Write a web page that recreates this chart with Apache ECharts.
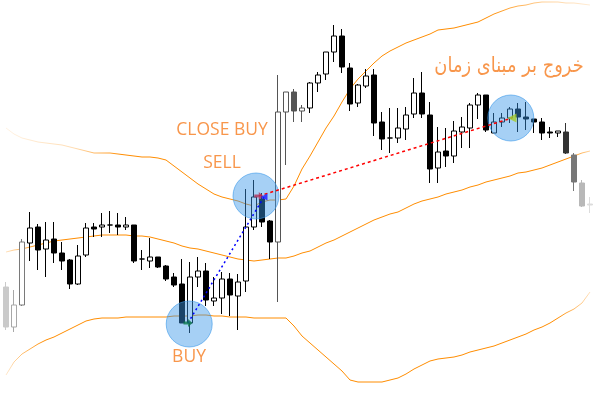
<!DOCTYPE html>
<html>
<head>
<meta charset="utf-8">
<script src="https://cdn.jsdelivr.net/npm/echarts@6/dist/echarts.min.js"></script>
<style>
  html, body { margin: 0; background: #fff; }
  #chart { width: 594px; height: 393px; }
</style>
</head>
<body>
<div id="chart"></div>
<script>
// candles: [open, close, low, high]
const bars = [
  [106, 66, 63, 111], [66, 88, 61, 103], [88, 151, 87, 154], [150, 165, 132, 181],
  [166, 143, 123, 169], [144, 153, 116, 171], [154, 140, 130, 171], [140, 132, 123, 151],
  [133, 109, 104, 134], [109, 137, 108, 148], [138, 165, 136, 170], [166, 164, 156, 170],
  [166, 168, 156, 180], [168, 168, 160, 182], [168, 166, 158, 180], [166, 168, 163, 176],
  [168, 132, 130, 168], [134, 134, 123, 143], [132, 136, 125, 155], [136, 126, 125, 136],
  [127, 114, 112, 128], [116, 108, 106, 120], [109, 70, 70, 134], [70, 116, 60, 131],
  [116, 122, 106, 136], [122, 93, 87, 130], [92, 95, 87, 116], [95, 114, 79, 121],
  [114, 98, 77, 120], [97, 111, 63, 119], [112, 166, 101, 204], [166, 196, 163, 213],
  [194, 171, 166, 200], [172, 151, 134, 173], [151, 281, 91, 318], [281, 301, 228, 301],
  [301, 282, 271, 304], [282, 285, 271, 288], [285, 310, 280, 311], [310, 318, 301, 321],
  [319, 341, 313, 341], [341, 357, 331, 368], [357, 326, 320, 364], [325, 289, 282, 330],
  [290, 308, 286, 309], [307, 317, 305, 324], [318, 270, 257, 324], [271, 254, 243, 281],
  [255, 255, 240, 285], [255, 265, 250, 285], [264, 278, 253, 286], [279, 300, 275, 315],
  [300, 279, 275, 321], [278, 224, 210, 291], [225, 241, 210, 266], [242, 237, 226, 265],
  [237, 262, 230, 272], [261, 266, 245, 276], [265, 288, 245, 290], [288, 298, 274, 300],
  [298, 263, 261, 298], [260, 271, 260, 280], [271, 275, 266, 280], [275, 284, 270, 286],
  [284, 276, 261, 290], [276, 274, 263, 291], [274, 271, 260, 274], [271, 260, 253, 275],
  [261, 260, 255, 266], [260, 262, 256, 262], [261, 240, 239, 270], [238, 211, 202, 240],
  [210, 187, 186, 213], [189, 188, 180, 196]
];

// bollinger bands
const upper = [
  265, 259, 255, 253, 251, 250, 249, 248, 246, 244, 242, 240, 240, 240, 239, 238,
  237, 236, 236, 235, 233, 227, 221, 215, 209, 204, 199, 196, 194, 192, 189, 187,
  191, 193, 193, 194, 207, 224, 237, 251, 265, 277, 291, 304, 314, 322, 330, 337,
  342, 346, 350, 353, 356, 359, 363, 364, 365, 367, 369, 371, 375, 379, 382, 385,
  387, 388, 390, 391, 391, 391, 390, 390, 389, 388
];
const middle = [
  141, 143, 144, 146, 148, 150, 152, 153, 154, 155, 156, 157, 158, 158, 158, 158,
  157, 157, 156, 154, 152, 150, 147, 145, 144, 142, 140, 138, 136, 134, 133, 132,
  133, 134, 135, 135, 137, 140, 142, 146, 150, 153, 157, 161, 165, 169, 173, 176,
  179, 181, 185, 189, 192, 194, 196, 199, 201, 203, 206, 208, 211, 213, 215, 217,
  220, 221, 223, 225, 228, 231, 234, 237, 240, 242
];
const lower = [
  18, 31, 39, 44, 49, 53, 56, 60, 64, 68, 72, 74, 75, 75, 75, 76,
  76, 76, 76, 76, 76, 77, 77, 77, 78, 78, 77, 77, 76, 76, 76, 75,
  75, 75, 75, 75, 67, 57, 50, 43, 36, 29, 22, 13, 11, 11, 11, 11,
  13, 15, 19, 24, 28, 32, 34, 35, 36, 38, 41, 43, 45, 47, 50, 53,
  56, 59, 63, 66, 70, 75, 80, 84, 90, 101
];

// trades, [bar position, price]
const buyEntry = [22.75, 70];
const buyExit = [32.25, 196];
const sellEntry = [31.6, 197];
const sellExit = [63.25, 275];
const circles = [[22.9, 69], [31.25, 197], [63.1, 275]];

// faded bars at the edges
const fade = { 0: '#cacaca', 1: '#a8a8a8', 2: '#7a7a7a', 34: '#555', 35: '#555', 36: '#555', 37: '#555',
  70: '#333', 71: '#777', 72: '#b8b8b8', 73: '#dcdcdc' };

const orange = '#ff8c00';
const textColor = '#f8964b';
const idx = bars.map((_, i) => i);

function bandColor(stops) {
  return new echarts.graphic.LinearGradient(0, 0, 1, 0,
    stops.map(([offset, a]) => ({ offset, color: `rgba(255,140,0,${a})` })));
}

function label(text, x, y) {
  return { type: 'text', x, y, scaleX: 0.92, z: 10,
    style: { text, fill: textColor, font: '19px "Open Sans", sans-serif', textAlign: 'center', textVerticalAlign: 'middle' } };
}

const chart = echarts.init(document.getElementById('chart'));
chart.setOption({
  animation: false,
  backgroundColor: '#fff',
  grid: { left: 2, right: 0, top: 0, bottom: 0 },
  xAxis: [
    { type: 'category', data: idx, show: false },
    { type: 'value', min: -0.5, max: 73.5, show: false }
  ],
  yAxis: { type: 'value', min: 0, max: 393, show: false, splitLine: { show: false } },
  series: [
    { type: 'line', data: upper, symbol: 'none', z: 1,
      lineStyle: { width: 1, color: bandColor([[0, 0.1], [0.12, 0.3], [0.2, 1], [0.82, 1], [0.92, 0.4], [1, 0.15]]) } },
    { type: 'line', data: middle, symbol: 'none', z: 1,
      lineStyle: { width: 1, color: bandColor([[0, 0.2], [0.06, 1], [0.96, 1], [1, 0.3]]) } },
    { type: 'line', data: lower, symbol: 'none', z: 1,
      lineStyle: { width: 1, color: bandColor([[0, 0.15], [0.07, 1], [0.94, 1], [1, 0.2]]) } },
    {
      type: 'candlestick',
      barWidth: 5,
      z: 2,
      itemStyle: { color: '#fff', color0: '#000', borderColor: '#000', borderColor0: '#000', borderWidth: 1 },
      data: bars.map((b, i) => {
        const c = fade[i];
        if (!c) return b;
        return { value: b, itemStyle: { color: b[1] > b[0] ? '#fff' : c, color0: c, borderColor: c, borderColor0: c } };
      })
    },
    {
      type: 'scatter',
      xAxisIndex: 1,
      data: circles,
      symbolSize: 46,
      itemStyle: { color: 'rgba(57,151,233,0.45)', borderColor: 'rgba(57,151,233,0.6)', borderWidth: 1, opacity: 1 },
      z: 3
    },
    {
      type: 'line', xAxisIndex: 1, data: [buyEntry, buyExit], symbol: 'none', z: 4,
      lineStyle: { color: '#0000ff', width: 1.5, type: [2, 3] }
    },
    {
      type: 'line', xAxisIndex: 1, data: [sellEntry, sellExit], symbol: 'none', z: 4,
      lineStyle: { color: '#ff0000', width: 1.5, type: [3, 3] }
    },
    {
      type: 'scatter', xAxisIndex: 1, z: 5,
      data: [
        { value: buyEntry, symbol: 'path://M0,3 L5,3 L5,0 L10,5 L5,10 L5,7 L0,7 Z', symbolSize: [9, 8], itemStyle: { color: '#0c7a4c' } },
        { value: sellEntry, symbol: 'path://M0,3 L5,3 L5,0 L10,5 L5,10 L5,7 L0,7 Z', symbolSize: [9, 8], itemStyle: { color: '#b0305a' } },
        { value: buyExit, symbol: 'triangle', symbolRotate: 90, symbolSize: 7, itemStyle: { color: '#1a1aff' } },
        { value: sellExit, symbol: 'triangle', symbolRotate: 90, symbolSize: 9, itemStyle: { color: '#a6cc2c' } }
      ]
    }
  ],
  graphic: [
    label('CLOSE BUY', 222, 130),
    label('SELL', 222, 163),
    label('BUY', 189, 357),
    { type: 'text', x: 509, y: 67, scaleX: 0.85, z: 10, style: { text: 'خروج بر مبنای زمان', fill: textColor, font: '21px "DejaVu Sans", sans-serif', textAlign: 'center', textVerticalAlign: 'middle' } }
  ]
});
</script>
</body>
</html>
